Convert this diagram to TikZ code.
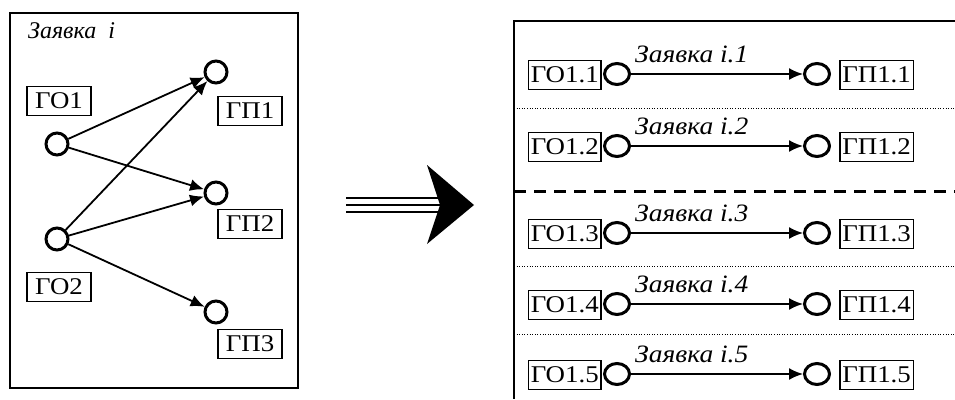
\documentclass[tikz,border=0pt]{standalone}
\usepackage{fontspec}
\setmainfont{Liberation Serif}
\usetikzlibrary{arrows.meta,shapes.geometric}
\begin{document}
\begin{tikzpicture}[x=1pt,y=-1pt,
  lbl/.style={draw, line width=1.6pt, inner xsep=2.5pt, inner ysep=0pt, minimum height=29pt, font=\fontsize{24}{28}\selectfont\addfontfeature{FakeStretch=1.12}},
  lblw/.style={lbl, inner xsep=8pt},
  vtx/.style={circle, draw, line width=3pt, minimum size=22pt, inner sep=0pt},
  vte/.style={ellipse, draw, line width=3pt, minimum width=25pt, minimum height=21pt, inner sep=0pt},
  arr/.style={-{Latex[length=14pt,width=12pt]}, line width=1.8pt},
  ttl/.style={font=\fontsize{24}{28}\selectfont\itshape, inner sep=0pt, anchor=base west},
  tts/.style={font=\fontsize{25}{29}\selectfont\itshape\addfontfeature{FakeStretch=1.1}, inner sep=0pt, anchor=base west},
  dotl/.style={line width=1pt, dash pattern=on 1pt off 1.6pt},
  dashl/.style={line width=3pt, dash pattern=on 12pt off 8pt}
]
\useasboundingbox (0,0) rectangle (955,399);
% left frame
\draw[line width=2pt] (10,13) rectangle (298,388);
\node[ttl] (t0) at (28,38) {Заявка\ \ i};
\node[vtx] (o1) at (57,144) {};
\node[vtx] (o2) at (57,239) {};
\node[vtx] (p1) at (216,72) {};
\node[vtx] (p2) at (216,193) {};
\node[vtx] (p3) at (216,312) {};
\node[lblw] (lo1) at (59,101) {ГО1};
\node[lblw] (lo2) at (59,287) {ГО2};
\node[lblw] (lp1) at (250,111) {ГП1};
\node[lblw] (lp2) at (250,224) {ГП2};
\node[lblw] (lp3) at (250,344) {ГП3};
\draw[arr] (o1) -- (p1);
\draw[arr] (o1) -- (p2);
\draw[arr] (o2) -- (p1);
\draw[arr] (o2) -- (p2);
\draw[arr] (o2) -- (p3);
% big arrow
\coordinate (ba) at (346,205);
\coordinate (bb) at (440,205);
\foreach \dy in {-7,0,7} {
  \draw[line width=2.8pt] ([yshift=-\dy pt]ba) -- ([yshift=-\dy pt]bb);
}
\fill (427,165) -- (474,205) -- (427,244) -- (440,205) -- cycle;
% right frame
\draw[line width=2pt] (955,21) -- (514,21) -- (514,399);
\draw[dotl] (514,108) -- (955,108);
\draw[dashl] (514,191) -- (955,191);
\draw[dotl] (514,266) -- (955,266);
\draw[dotl] (514,334) -- (955,334);
\foreach \k/\yy in {1/74,2/146,3/233,4/304,5/374} {
  \node[vte] (a\k) at (617,\yy) {};
  \node[vte] (b\k) at (817,\yy) {};
  \node[lbl,anchor=east] (la\k) at (602,\yy+1) {ГО1.\k};
  \node[lbl,anchor=west] (lb\k) at (839,\yy+1) {ГП1.\k};
  \draw[arr] (a\k) -- (b\k);
  \node[tts] (t\k) at (635,\yy-12) {Заявка i.\k};
}
\end{tikzpicture}
\end{document}
